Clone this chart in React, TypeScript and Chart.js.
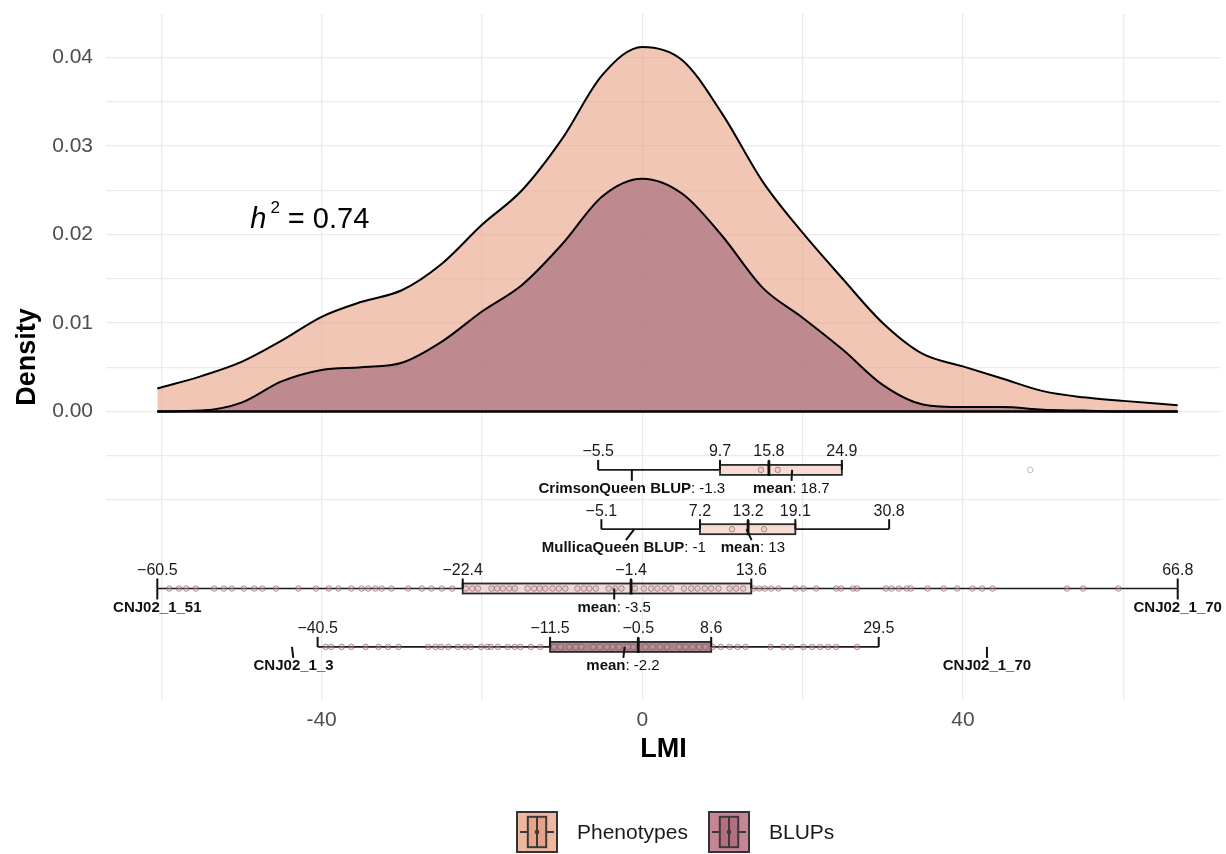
import React, { useEffect, useRef } from "react";
import { Chart, registerables } from "chart.js";

Chart.register(...registerables);

const FONT = "'Liberation Sans', Arial, Helvetica, sans-serif";

// ---- Density curves ----
const densityX = [-60.5, -55, -50, -45, -40, -35, -30, -25, -20, -15, -10, -5, 0, 5, 10, 15, 20, 25, 30, 35, 40, 45, 50, 55, 60, 66.8];
const phenotypeDensity = [0.0026, 0.004, 0.0056, 0.008, 0.0107, 0.0124, 0.0137, 0.0167, 0.0211, 0.025, 0.0308, 0.038, 0.0412, 0.0397, 0.0336, 0.026, 0.0202, 0.015, 0.01, 0.0065, 0.0051, 0.0037, 0.0023, 0.0016, 0.0012, 0.0007];
const blupDensity = [0.0, 0.0001, 0.001, 0.0034, 0.0047, 0.005, 0.0055, 0.0079, 0.0113, 0.0143, 0.0189, 0.0243, 0.0263, 0.0246, 0.0198, 0.014, 0.0106, 0.007, 0.003, 0.0008, 0.0005, 0.0005, 0.0002, 0.0001, 0.0, 0.0];

// ---- Box plot rows ----
const rowLevel = [-0.0066, -0.0133, -0.02, -0.0266];
const whiskerLow = [-5.5, -5.1, -60.5, -40.5];
const quartile1 = [9.7, 7.2, -22.4, -11.5];
const medians = [15.8, 13.2, -1.4, -0.5];
const quartile3 = [24.9, 19.1, 13.6, 8.6];
const whiskerHigh = [24.9, 30.8, 66.8, 29.5];

// observation points drawn along the rows
const crimsonPoints = [14.8, 16.9];
const crimsonOutliers = [48.4];
const mullicaPoints = [11.2, 15.2];
const phenotypePoints = [
  -59, -57.8, -56.9, -55.7, -53.4, -52.2, -51.2, -49.7, -48.4, -47.4, -45.7, -42.9, -40.7, -39.1, -37.9, -36.3, -35, -34.2, -33.3, -32.5, -31.3, -29.2, -27.5, -26.3, -25, -23.7,
  -22, -21.2, -20.5, -18.8, -18.1, -17.4, -16.6, -15.9, -14.3, -13.5, -12.8, -12.1, -11.2, -10.4, -9.6, -8.1, -7.3, -6.6, -5.8, -4.2, -3.4, -2.6, -0.9, 0.2, 1.1, 1.9, 2.8, 3.6, 5.2, 6.1, 6.9, 7.8, 8.6, 9.5, 10.9, 11.7, 12.6,
  13.9, 14.6, 15.3, 16.1, 17, 19.1, 20.1, 21.7, 24.2, 24.8, 26.3, 26.8, 30.4, 31.1, 32, 33, 33.5, 35.6, 37.6, 39.3, 41.2, 42.4, 43.7, 53, 55, 59.4,
];
const blupPoints = [
  -39.5, -38.8, -37.5, -36.3, -34.5, -32.9, -31.7, -30.4, -26.7, -25.8, -25.1, -24.2, -23, -22.1, -21.4, -20.1, -19.3, -18.9, -18, -16.8, -15.9, -15.2, -13.9, -12.7,
  -11, -10.2, -9.1, -8.3, -7.6, -6.1, -5.3, -4.4, -3.7, -2.9, -1.8, -1.1, 0.4, 1.3, 2.2, 3.1, 4.6, 5.4, 6.3, 7.1, 7.9,
  8.8, 9.8, 10.9, 11.9, 12.9, 16, 17.6, 18.6, 20.1, 21.2, 22.2, 23.2, 24.2, 26.8,
];

// callouts under the rows: row, value, label centre, bold text, plain text
const calloutRow = [0, 0, 1, 1, 2, 2, 2, 3, 3, 3];
const calloutValue = [-1.3, 18.7, -1, 13, -60.5, -3.5, 66.8, -43.7, -2.2, 43];
const calloutLabelAt = [-1.3, 18.6, -2.3, 13.8, -60.5, -3.5, 66.8, -43.5, -2.4, 43];
const calloutBold = ["CrimsonQueen BLUP", "mean", "MullicaQueen BLUP", "mean", "CNJ02_1_51", "mean", "CNJ02_1_70", "CNJ02_1_3", "mean", "CNJ02_1_70"];
const calloutText = [": -1.3", ": 18.7", ": -1", ": 13", "", ": -3.5", "", "", ": -2.2", ""];

// axis ticks
const xGridValues = [-60, -40, -20, 0, 20, 40, 60];
const xLabelValues = [-40, 0, 40];
const yGridValues = [-0.01, -0.005, 0, 0.005, 0.01, 0.015, 0.02, 0.025, 0.03, 0.035, 0.04];

const heritability = "0.74";
const legendLabels = ["Phenotypes", "BLUPs"];

// ---- styles ----
const phenoFill = "rgba(232,160,130,0.6)";
const blupFill = "rgba(158,96,120,0.6)";
const boxFills = ["#F6DCD3", "#F6DCD3", "#EEDAD6", "#A8858B"];
const legendKeyFill = ["#EDB7A0", "#C68794"];
const legendBoxFill = ["#E6A387", "#B36F80"];
const ANN = 15;
const NUM = 16;
const BOX_HALF = 5;

const fmtNum = (v: number) => (v < 0 ? "\u2212" + Math.abs(v) : String(v));

const rowPts = (vals: number[], row: number) => vals.map((x) => ({ x, y: rowLevel[row] }));

const boxPlugin = {
  id: "boxplots",
  beforeDatasetsDraw(chart: any) {
    const { ctx } = chart;
    const xs = chart.scales.x;
    const ys = chart.scales.y;
    ctx.save();
    rowLevel.forEach((lvl, i) => {
      const py = ys.getPixelForValue(lvl);
      ctx.strokeStyle = "#1a1a1a";
      ctx.lineWidth = 1.7;
      ctx.beginPath();
      ctx.moveTo(xs.getPixelForValue(whiskerLow[i]), py);
      ctx.lineTo(xs.getPixelForValue(whiskerHigh[i]), py);
      ctx.stroke();
      const a = xs.getPixelForValue(quartile1[i]);
      const b = xs.getPixelForValue(quartile3[i]);
      ctx.fillStyle = boxFills[i];
      ctx.fillRect(a, py - BOX_HALF, b - a, BOX_HALF * 2);
      ctx.strokeStyle = "#2a2a2a";
      ctx.lineWidth = 1.8;
      ctx.strokeRect(a, py - BOX_HALF, b - a, BOX_HALF * 2);
    });
    ctx.restore();
  },
  afterDatasetsDraw(chart: any) {
    const { ctx } = chart;
    const xs = chart.scales.x;
    const ys = chart.scales.y;
    ctx.save();
    ctx.lineCap = "butt";
    rowLevel.forEach((lvl, i) => {
      const py = ys.getPixelForValue(lvl);
      const vals = [whiskerLow[i], quartile1[i], medians[i], quartile3[i], whiskerHigh[i]].filter((v, k, arr) => arr.indexOf(v) === k);
      vals.forEach((v) => {
        const px = xs.getPixelForValue(v);
        ctx.strokeStyle = "#111";
        ctx.lineWidth = 2;
        ctx.beginPath();
        ctx.moveTo(px, py - 10);
        ctx.lineTo(px, py);
        ctx.stroke();
        ctx.fillStyle = "#1a1a1a";
        ctx.font = `${NUM}px ${FONT}`;
        ctx.textAlign = "center";
        ctx.textBaseline = "middle";
        ctx.fillText(fmtNum(v), px, py - 18);
      });
      const pm = xs.getPixelForValue(medians[i]);
      ctx.strokeStyle = "#111";
      ctx.lineWidth = 2.8;
      ctx.beginPath();
      ctx.moveTo(pm, py - 9);
      ctx.lineTo(pm, py + BOX_HALF + 1);
      ctx.stroke();
    });
    calloutValue.forEach((v, k) => {
      const py = ys.getPixelForValue(rowLevel[calloutRow[k]]);
      const px = xs.getPixelForValue(v);
      const lx = xs.getPixelForValue(calloutLabelAt[k]);
      ctx.strokeStyle = "#111";
      ctx.lineWidth = 2;
      ctx.beginPath();
      ctx.moveTo(px, py);
      ctx.lineTo(px + (lx - px) * 0.8, py + 11);
      ctx.stroke();
      ctx.textBaseline = "middle";
      ctx.textAlign = "left";
      ctx.font = `bold ${ANN}px ${FONT}`;
      const wb = ctx.measureText(calloutBold[k]).width;
      ctx.font = `${ANN}px ${FONT}`;
      const wt = ctx.measureText(calloutText[k]).width;
      const x0 = lx - (wb + wt) / 2;
      ctx.fillStyle = "#111";
      ctx.font = `bold ${ANN}px ${FONT}`;
      ctx.fillText(calloutBold[k], x0, py + 19);
      ctx.font = `${ANN}px ${FONT}`;
      ctx.fillText(calloutText[k], x0 + wb, py + 19);
    });
    // heritability label
    const hx = xs.getPixelForValue(-48.9);
    const hy = ys.getPixelForValue(0.0207);
    ctx.fillStyle = "#000";
    ctx.textAlign = "left";
    ctx.textBaseline = "alphabetic";
    ctx.font = `italic 29px ${FONT}`;
    ctx.fillText("h", hx, hy);
    const wh = ctx.measureText("h").width;
    ctx.font = `17px ${FONT}`;
    ctx.fillText("2", hx + wh + 4, hy - 15);
    const w2 = ctx.measureText("2").width;
    ctx.font = `29px ${FONT}`;
    ctx.fillText("= " + heritability, hx + wh + 4 + w2 + 8, hy);
    ctx.restore();
  },
  afterDraw(chart: any) {
    const { ctx } = chart;
    ctx.save();
    const keyLeft = [517, 709];
    const top = 812;
    const s = 40;
    legendLabels.forEach((lab, i) => {
      const l = keyLeft[i];
      ctx.fillStyle = legendKeyFill[i];
      ctx.fillRect(l, top, s, s);
      ctx.strokeStyle = "#333";
      ctx.lineWidth = 2;
      ctx.strokeRect(l, top, s, s);
      const bl = l + s * 0.27;
      const br = l + s * 0.73;
      const bt = top + s * 0.12;
      const bb = top + s * 0.88;
      const my = top + s / 2;
      ctx.fillStyle = legendBoxFill[i];
      ctx.fillRect(bl, bt, br - bl, bb - bt);
      ctx.strokeStyle = "#3a3a3a";
      ctx.strokeRect(bl, bt, br - bl, bb - bt);
      ctx.beginPath();
      ctx.moveTo(l + 3, my);
      ctx.lineTo(bl, my);
      ctx.moveTo(br, my);
      ctx.lineTo(l + s - 3, my);
      ctx.moveTo(l + s / 2, bt);
      ctx.lineTo(l + s / 2, bb);
      ctx.stroke();
      ctx.fillStyle = "#3a3a3a";
      ctx.beginPath();
      ctx.arc(l + s / 2, my, 2.3, 0, Math.PI * 2);
      ctx.fill();
      ctx.fillStyle = "#1a1a1a";
      ctx.font = `21px ${FONT}`;
      ctx.textAlign = "left";
      ctx.textBaseline = "middle";
      ctx.fillText(lab, l + 60, my + 1);
    });
    ctx.restore();
  },
};

export default function App() {
  const ref = useRef<HTMLCanvasElement>(null);
  useEffect(() => {
    const canvas = ref.current;
    if (!canvas) return;
    const pointStyle = {
      type: "scatter" as const,
      showLine: false,
      pointRadius: 2.8,
      pointBorderWidth: 1,
      pointBackgroundColor: "rgba(215,175,175,0.35)",
      pointBorderColor: "rgba(115,65,75,0.5)",
      order: 0,
    };
    const chart = new Chart(canvas, {
      type: "line",
      data: {
        datasets: [
          {
            label: "Phenotypes",
            data: densityX.map((x, i) => ({ x, y: phenotypeDensity[i] })),
            fill: "origin",
            backgroundColor: phenoFill,
            borderColor: "#000",
            borderWidth: 2,
            pointRadius: 0,
            cubicInterpolationMode: "monotone",
            order: 3,
          },
          {
            label: "BLUPs",
            data: densityX.map((x, i) => ({ x, y: blupDensity[i] })),
            fill: "origin",
            backgroundColor: blupFill,
            borderColor: "#000",
            borderWidth: 2,
            pointRadius: 0,
            cubicInterpolationMode: "monotone",
            order: 2,
          },
          {
            label: "baseline",
            data: [
              { x: densityX[0], y: 0 },
              { x: densityX[densityX.length - 1], y: 0 },
            ],
            borderColor: "#000",
            borderWidth: 2.4,
            pointRadius: 0,
            fill: false,
            order: 1,
          },
          { ...pointStyle, label: "CrimsonQueen obs", data: rowPts(crimsonPoints, 0) },
          { ...pointStyle, label: "CrimsonQueen outlier", data: rowPts(crimsonOutliers, 0), pointBackgroundColor: "rgba(255,255,255,0.5)", pointBorderColor: "rgba(150,150,150,0.6)" },
          { ...pointStyle, label: "MullicaQueen obs", data: rowPts(mullicaPoints, 1) },
          { ...pointStyle, label: "Phenotype obs", data: rowPts(phenotypePoints, 2) },
          { ...pointStyle, label: "BLUP obs", data: rowPts(blupPoints, 3) },
        ] as any,
      },
      options: {
        animation: false,
        responsive: false,
        events: [],
        layout: { padding: { left: 0, right: 0, top: 14, bottom: 84 } },
        plugins: { legend: { display: false }, tooltip: { enabled: false } },
        scales: {
          x: {
            type: "linear",
            min: -66.9,
            max: 72.2,
            afterBuildTicks: (s: any) => {
              s.ticks = xGridValues.map((v) => ({ value: v }));
            },
            afterFit: (s: any) => {
              s.height = 70;
              s.paddingLeft = 0;
              s.paddingRight = 0;
            },
            grid: { color: "#EBEBEB", lineWidth: 1.3, drawTicks: false },
            border: { display: false },
            ticks: {
              color: "#4D4D4D",
              font: { size: 21, family: FONT },
              padding: 8,
              autoSkip: false,
              maxRotation: 0,
              callback: (v: any) => (xLabelValues.includes(Number(v)) ? String(v) : ""),
            },
            title: {
              display: true,
              text: "LMI",
              color: "#000",
              font: { size: 27, weight: "bold", family: FONT },
              padding: { top: 0, bottom: 4 },
            },
          },
          y: {
            type: "linear",
            min: -0.0326,
            max: (411.5 - 14) / 8850,
            afterBuildTicks: (s: any) => {
              s.ticks = yGridValues.map((v) => ({ value: v }));
            },
            afterFit: (s: any) => {
              s.width = 106;
              s.paddingTop = 0;
              s.paddingBottom = 0;
            },
            grid: { color: "#EBEBEB", lineWidth: 1.3, drawTicks: false },
            border: { display: false },
            ticks: {
              color: "#4D4D4D",
              font: { size: 21, family: FONT },
              padding: 13,
              autoSkip: false,
              callback: (v: any) => {
                const n = Number(v);
                if (n < -1e-9) return "";
                return Math.abs(n * 100 - Math.round(n * 100)) < 1e-6 ? n.toFixed(2) : "";
              },
            },
            title: {
              display: true,
              text: "Density",
              color: "#000",
              font: { size: 27, weight: "bold", family: FONT },
              padding: { top: 11, bottom: 0 },
            },
          },
        },
      } as any,
      plugins: [boxPlugin],
    });
    return () => chart.destroy();
  }, []);
  return (
    <div style={{ position: "fixed", left: 0, top: 0, width: 1226, height: 854, background: "#fff", overflow: "hidden" }}>
      <canvas ref={ref} width={1226} height={854} style={{ display: "block" }} />
    </div>
  );
}
